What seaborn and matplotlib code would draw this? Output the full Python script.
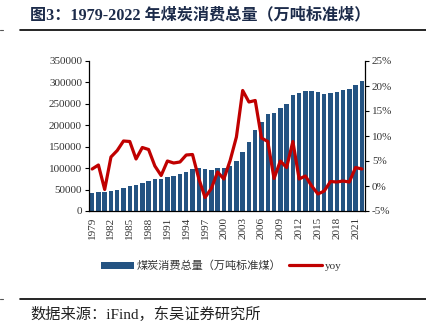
import numpy as np
import pandas as pd
import matplotlib
matplotlib.use("Agg")
import matplotlib.pyplot as plt
from matplotlib.patches import Patch
from matplotlib.lines import Line2D
from matplotlib.ticker import FixedLocator, FuncFormatter, MultipleLocator
import seaborn as sns

# China coal consumption, 10k tonnes of standard coal, and year-on-year growth (%)
years = list(range(1979, 2023))
coal = [41773, 43519, 43218, 45744, 49002, 53391, 58125, 61284, 66014, 70864,
        73670, 75212, 78979, 82641, 86647, 92053, 97857, 99366, 97039, 96554,
        99241, 100670, 105772, 116160, 138352, 161657, 189231, 207402, 225795, 229237,
        240666, 249568, 271704, 275465, 280999, 280987, 276532, 273725, 276231, 278436,
        281283, 283542, 293976, 304041]
yoy = [3.4, 4.2, -0.7, 5.8, 7.1, 9.0, 8.9, 5.4, 7.7, 7.3,
       4.0, 2.1, 5.0, 4.6, 4.8, 6.2, 6.3, 1.5, -2.3, -0.5,
       2.8, 1.4, 5.1, 9.8, 19.1, 16.8, 17.1, 9.6, 8.9, 1.5,
       5.0, 3.7, 8.9, 1.4, 2.0, 0.0, -1.6, -1.0, 0.9, 0.8,
       1.0, 0.8, 3.7, 3.4]
tick_years = list(range(1979, 2022, 3))

title = "图3：1979-2022 年煤炭消费总量（万吨标准煤）"
bar_label = "煤炭消费总量（万吨标准煤）"
line_label = "yoy"
source = "数据来源：iFind，东吴证券研究所"

BAR_COLOR = "#245382"
LINE_COLOR = "#c00000"

sns.set_style("white")
plt.rcParams["font.family"] = ["Liberation Serif", "Noto Sans CJK SC", "DejaVu Sans"]
plt.rcParams["axes.unicode_minus"] = False

df = pd.DataFrame({"year": years, "coal": coal, "yoy": yoy})

fig = plt.figure(figsize=(4.27, 3.35), dpi=100)
ax = fig.add_axes([89 / 427, 1 - 211 / 335, 276 / 427, 150 / 335])

sns.barplot(data=df, x="year", y="coal", native_scale=True, width=0.7,
            color=BAR_COLOR, saturation=1, ax=ax, edgecolor="none")
ax.set_xlim(1978.5, 2022.5)
ax.set_ylim(0, 350000)
ax.yaxis.set_major_locator(MultipleLocator(50000))
ax.yaxis.set_major_formatter(FuncFormatter(lambda v, p: f"{v:.0f}"))
ax.set_xlabel("")
ax.set_ylabel("")

# category labels centred on bars, tick marks on the category boundaries
ax.xaxis.set_major_locator(FixedLocator(tick_years))
ax.set_xticklabels([str(y) for y in tick_years], rotation=90)
ax.xaxis.set_minor_locator(FixedLocator([y - 0.5 for y in tick_years]))
ax.tick_params(axis="x", which="major", length=0, pad=4, labelsize=8, colors="#333333")
ax.tick_params(axis="x", which="minor", length=3, width=0.8, direction="out")
ax.tick_params(axis="y", length=3, width=0.8, direction="out", labelsize=8,
               colors="#333333", pad=2)
ax.tick_params(axis="y", color="black")
ax.tick_params(axis="x", which="minor", color="black")

ax2 = ax.twinx()
sns.lineplot(data=df, x="year", y="yoy", color=LINE_COLOR, linewidth=2.3, ax=ax2)
ax2.set_ylim(-5, 25)
ax2.yaxis.set_major_locator(MultipleLocator(5))
ax2.yaxis.set_major_formatter(FuncFormatter(lambda v, p: f"{v:.0f}%"))
ax2.set_ylabel("")
ax2.set_xlabel("")
ax2.tick_params(axis="y", length=3, width=0.8, direction="out", labelsize=8,
                colors="#333333", pad=2)
ax2.tick_params(axis="y", color="black")

for a in (ax, ax2):
    a.spines["top"].set_visible(False)
    for s in ("left", "right", "bottom"):
        a.spines[s].set_color("black")
        a.spines[s].set_linewidth(0.9)
ax.spines["right"].set_visible(False)
ax2.spines["left"].set_visible(False)
ax2.spines["bottom"].set_visible(False)
ax.grid(False)
ax2.grid(False)

handles = [Patch(facecolor=BAR_COLOR, edgecolor="none"),
           Line2D([], [], color=LINE_COLOR, linewidth=2.3)]
fig.legend(handles, [bar_label, line_label], loc="center",
           bbox_to_anchor=(221 / 427, 1 - 266 / 335), ncol=2, frameon=False,
           fontsize=8, handlelength=3.0, handletextpad=0.2, columnspacing=0.7,
           labelcolor="#333333")

fig.text(30 / 427, 1 - 15 / 335, title, fontsize=11.6, fontweight="bold",
         color="#1c2b4a", ha="left", va="center")
fig.text(30 / 427, 1 - 314 / 335, source, fontsize=11, color="#222222",
         ha="left", va="center")

for yline in (30, 299):
    yf = 1 - yline / 335
    fig.add_artist(Line2D([20 / 427, 1.0], [yf, yf], color="black", linewidth=1.2))
    fig.add_artist(Line2D([0, 3 / 427], [yf, yf], color="#555555", linewidth=0.8))

fig.savefig("out.png", dpi=100, facecolor="white")
